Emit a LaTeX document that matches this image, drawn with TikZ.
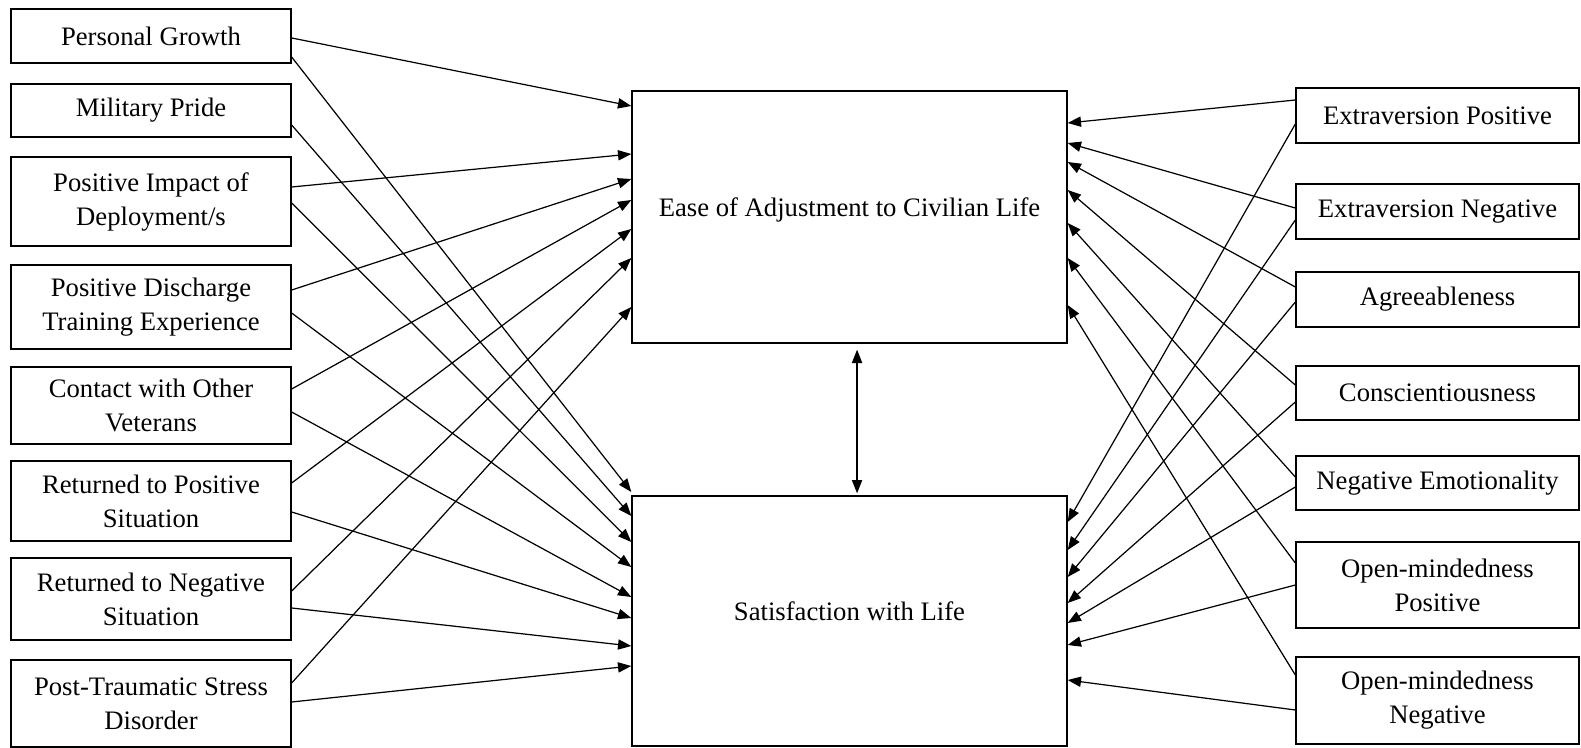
\documentclass[tikz,border=0pt]{standalone}
\usepackage{fontspec}
\setmainfont{Liberation Serif}
\usetikzlibrary{arrows.meta}

\begin{document}
\begin{tikzpicture}[x=0.45pt,y=-0.45pt,
    font=\fontsize{12}{15.3}\selectfont,
    box/.style={draw,line width=0.6pt,inner sep=0pt,align=center},
    lbox/.style={box,minimum width=126pt},
    rbox/.style={box,minimum width=127.35pt},
    cbox/.style={box,minimum width=195.75pt},
    >={Triangle[length=6pt,width=4.6pt]}]
  \useasboundingbox (0,0) rectangle (1581,748);
  % predictors
  \node[lbox,minimum height=24.3pt] (pg) at (151,36) {Personal Growth};
  \node[lbox,minimum height=23.85pt] (mp) at (151,110.5) {Military Pride};
  \node[lbox,minimum height=40.05pt] (pid) at (151,201.5) {Positive Impact of\\Deployment/s};
  \node[lbox,minimum height=37.8pt] (pdt) at (151,307) {Positive Discharge\\Training Experience};
  \node[lbox,minimum height=34.65pt] (cv) at (151,405.5) {Contact with Other\\Veterans};
  \node[lbox,minimum height=36pt] (rp) at (151,501) {Returned to Positive\\Situation};
  \node[lbox,minimum height=36.9pt] (rn) at (151,599) {Returned to Negative\\Situation};
  \node[lbox,minimum height=39.15pt] (ptsd) at (151,703.5) {Post-Traumatic Stress\\Disorder};
  % outcomes
  \node[cbox,minimum height=113.4pt,label={[yshift=3pt]center:Ease of Adjustment to Civilian Life}] (ease) at (849.5,217) {};
  \node[cbox,minimum height=112.5pt,label={[yshift=4.5pt]center:Satisfaction with Life}] (sat) at (849.5,621) {};
  % personality
  \node[rbox,minimum height=24.75pt] (ep) at (1437.5,115.5) {Extraversion Positive};
  \node[rbox,minimum height=24.75pt] (en) at (1437.5,211.5) {Extraversion Negative};
  \node[rbox,minimum height=24.75pt] (agr) at (1437.5,299.5) {Agreeableness};
  \node[rbox,minimum height=24.3pt] (con) at (1437.5,393) {Conscientiousness};
  \node[rbox,minimum height=24.3pt] (ne) at (1437.5,483) {Negative Emotionality};
  \node[rbox,minimum height=38.7pt] (omp) at (1437.5,585) {Open-mindedness\\Positive};
  \node[rbox,minimum height=39.15pt] (omn) at (1437.5,700.5) {Open-mindedness\\Negative};

  \begin{scope}[->,line width=0.55pt]
    \draw (pg.east |- 0,38) to (ease.west |- 0,106);
    \draw (pid.east |- 0,187) to (ease.west |- 0,154);
    \draw (pdt.east |- 0,290) to (ease.west |- 0,179);
    \draw (cv.east |- 0,389) to (ease.west |- 0,200);
    \draw (rp.east |- 0,483) to (ease.west |- 0,229);
    \draw (rn.east |- 0,591) to (ease.west |- 0,258);
    \draw (ptsd.east |- 0,683) to (ease.west |- 0,307);
    \draw (pg.east |- 0,57) to (sat.west |- 0,492);
    \draw (mp.east |- 0,125) to (sat.west |- 0,516);
    \draw (pid.east |- 0,203) to (sat.west |- 0,542);
    \draw (pdt.east |- 0,313) to (sat.west |- 0,567);
    \draw (cv.east |- 0,412) to (sat.west |- 0,597);
    \draw (rp.east |- 0,512) to (sat.west |- 0,618);
    \draw (rn.east |- 0,608) to (sat.west |- 0,646);
    \draw (ptsd.east |- 0,702) to (sat.west |- 0,666);
    \draw (ep.west |- 0,100) to (ease.east |- 0,123);
    \draw (en.west |- 0,208) to (ease.east |- 0,143);
    \draw (agr.west |- 0,287) to (ease.east |- 0,162);
    \draw (con.west |- 0,385) to (ease.east |- 0,190);
    \draw (ne.west |- 0,477) to (ease.east |- 0,223);
    \draw (omp.west |- 0,563) to (ease.east |- 0,258);
    \draw (omn.west |- 0,675) to (ease.east |- 0,305);
    \draw (ep.west |- 0,124) to (sat.east |- 0,522);
    \draw (en.west |- 0,220) to (sat.east |- 0,550);
    \draw (agr.west |- 0,302) to (sat.east |- 0,577);
    \draw (con.west |- 0,402) to (sat.east |- 0,603);
    \draw (ne.west |- 0,487) to (sat.east |- 0,623);
    \draw (omp.west |- 0,585) to (sat.east |- 0,645);
    \draw (omn.west |- 0,710) to (sat.east |- 0,680);
    \draw[<->,shorten <=2.7pt,shorten >=0.9pt] ([xshift=3.4pt]ease.south) to ([xshift=3.4pt]sat.north);
  \end{scope}
\end{tikzpicture}
\end{document}
